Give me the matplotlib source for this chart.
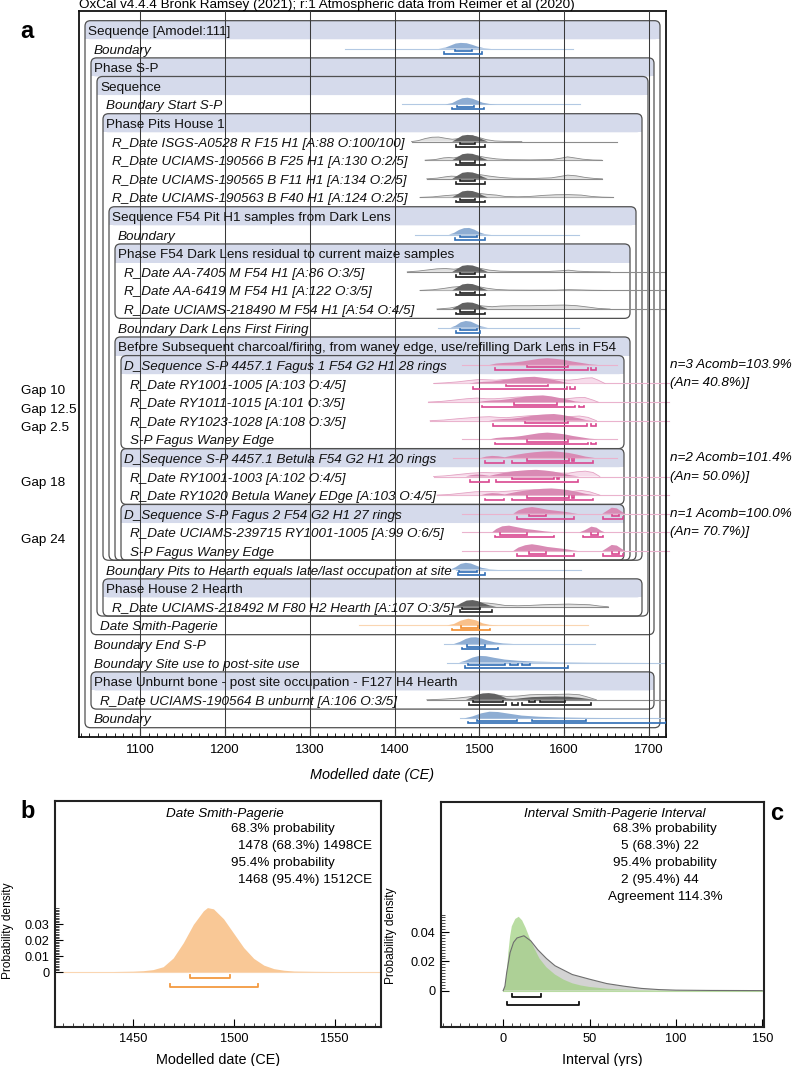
import numpy as np
import matplotlib
matplotlib.use("Agg")
import matplotlib.pyplot as plt
from matplotlib.patches import FancyBboxPatch, Rectangle
from matplotlib.ticker import FixedLocator
import matplotlib.transforms as mtransforms

plt.rcParams['font.family'] = ['Liberation Sans', 'DejaVu Sans']

# ---------------- panel a data ----------------
ROW_LABELS = [
    "Sequence [Amodel:111]",
    "Boundary",
    "Phase S-P",
    "Sequence",
    "Boundary Start S-P",
    "Phase Pits House 1",
    "R_Date ISGS-A0528 R F15 H1 [A:88 O:100/100]",
    "R_Date UCIAMS-190566 B F25 H1 [A:130 O:2/5]",
    "R_Date UCIAMS-190565 B F11 H1 [A:134 O:2/5]",
    "R_Date UCIAMS-190563 B F40 H1 [A:124 O:2/5]",
    "Sequence F54 Pit H1 samples from Dark Lens",
    "Boundary",
    "Phase F54 Dark Lens residual to current maize samples",
    "R_Date AA-7405 M F54 H1 [A:86 O:3/5]",
    "R_Date AA-6419 M F54 H1 [A:122 O:3/5]",
    "R_Date UCIAMS-218490 M F54 H1 [A:54 O:4/5]",
    "Boundary Dark Lens First Firing",
    "Before Subsequent charcoal/firing, from waney edge, use/refilling Dark Lens in F54",
    "D_Sequence S-P 4457.1 Fagus 1 F54 G2 H1 28 rings",
    "R_Date RY1001-1005 [A:103 O:4/5]",
    "R_Date RY1011-1015 [A:101 O:3/5]",
    "R_Date RY1023-1028 [A:108 O:3/5]",
    "S-P Fagus Waney Edge",
    "D_Sequence S-P 4457.1 Betula F54 G2 H1 20 rings",
    "R_Date RY1001-1003 [A:102 O:4/5]",
    "R_Date RY1020 Betula Waney EDge [A:103 O:4/5]",
    "D_Sequence S-P Fagus 2 F54 G2 H1 27 rings",
    "R_Date UCIAMS-239715 RY1001-1005 [A:99 O:6/5]",
    "S-P Fagus Waney Edge",
    "Boundary Pits to Hearth equals late/last occupation at site",
    "Phase House 2 Hearth",
    "R_Date UCIAMS-218492 M F80 H2 Hearth [A:107 O:3/5]",
    "Date Smith-Pagerie",
    "Boundary End S-P",
    "Boundary Site use to post-site use",
    "Phase Unburnt bone - post site occupation - F127 H4 Hearth",
    "R_Date UCIAMS-190564 B unburnt [A:106 O:3/5]",
    "Boundary",
]
ROW_LEVELS = [0, 1, 1, 2, 3, 3, 4, 4, 4, 4, 4, 5, 5, 6, 6, 6, 5, 5, 6, 7, 7, 7, 7,
              6, 7, 7, 6, 7, 7, 3, 3, 4, 2, 1, 1, 1, 2, 1]
ROW_STYLE = ("H I H H I H I I I I H I H I I I I H HI I I I I HI I I HI I I I "
             "H I I I I H I I").split()
GROUP_LAST = {0: 37, 2: 32, 3: 31, 5: 28, 10: 28, 12: 15, 17: 28, 18: 22,
              23: 25, 26: 28, 30: 31, 35: 36}

ROW_COLOUR = {1: 'b', 4: 'b', 11: 'b', 16: 'b', 29: 'b', 33: 'b', 34: 'b', 37: 'b',
              6: 'g', 7: 'g', 8: 'g', 9: 'g', 13: 'g', 14: 'g', 15: 'g', 31: 'g', 36: 'g',
              32: 'o',
              18: 'p', 19: 'p', 20: 'p', 21: 'p', 22: 'p', 23: 'p', 24: 'p', 25: 'p',
              26: 'p', 27: 'p', 28: 'p'}

LINE_SPAN = {1: (1341, 1610), 4: (1409, 1619), 6: (1420, 1662), 7: (1436, 1644),
             8: (1438, 1645), 9: (1430, 1658), 11: (1424, 1618), 13: (1415, 1720),
             14: (1430, 1720), 15: (1450, 1720), 16: (1451, 1618), 18: (1479, 1662),
             19: (1446, 1724), 20: (1440, 1724), 21: (1442, 1724), 22: (1479, 1662),
             23: (1469, 1662), 24: (1446, 1724), 25: (1450, 1724), 26: (1479, 1724),
             27: (1479, 1724), 28: (1479, 1724), 29: (1473, 1620), 31: (1470, 1652),
             32: (1358, 1628), 33: (1458, 1636), 34: (1462, 1720), 36: (1438, 1720),
             37: (1477, 1720)}

RDATE_POST_YR = [1468, 1474, 1480, 1486, 1492, 1498, 1504, 1510]
RDATE_POST_H = [0, 0.45, 0.9, 1.0, 0.95, 0.7, 0.3, 0]
FAGUS1_YR = [1512, 1520, 1530, 1540, 1550, 1560, 1570, 1580, 1590, 1600, 1610, 1620, 1630, 1640]
FAGUS1_H = [0, 0.2, 0.3, 0.35, 0.5, 0.7, 0.9, 1.0, 0.9, 0.75, 0.5, 0.3, 0.1, 0]
BETULA_YR = [1502, 1508, 1515, 1522, 1530, 1537, 1545, 1555, 1565, 1575, 1585, 1595,
             1605, 1615, 1625, 1636]
BETULA_H = [0, 0.2, 0.3, 0.25, 0.1, 0.3, 0.5, 0.7, 0.85, 0.95, 1.0, 0.9, 0.75, 0.5, 0.2, 0]
FAGUS2_YR = [1540, 1546, 1554, 1562, 1570, 1580, 1590, 1600, 1610, 1616, 1645, 1650,
             1656, 1662, 1668, 1672]
FAGUS2_H = [0, 0.5, 0.85, 1.0, 0.85, 0.6, 0.45, 0.3, 0.1, 0, 0, 0.4, 0.9, 0.8, 0.3, 0]
RY_H = [0, 0.15, 0.25, 0.3, 0.45, 0.65, 0.85, 0.95, 1.0, 0.85, 0.6, 0.35, 0.1, 0]

POST = {
    1: ([1452, 1460, 1466, 1472, 1478, 1485, 1492, 1498, 1505, 1514],
        [0, 0.15, 0.45, 0.75, 0.85, 0.8, 0.55, 0.28, 0.08, 0]),
    4: ([1460, 1468, 1474, 1480, 1486, 1492, 1498, 1504, 1512, 1520],
        [0, 0.2, 0.6, 0.92, 1.0, 0.85, 0.55, 0.25, 0.07, 0]),
    6: (RDATE_POST_YR, RDATE_POST_H), 7: (RDATE_POST_YR, RDATE_POST_H),
    8: (RDATE_POST_YR, RDATE_POST_H), 9: (RDATE_POST_YR, RDATE_POST_H),
    11: ([1464, 1470, 1476, 1482, 1488, 1494, 1500, 1506, 1514],
         [0, 0.25, 0.7, 0.97, 1.0, 0.75, 0.35, 0.1, 0]),
    13: (RDATE_POST_YR, RDATE_POST_H), 14: (RDATE_POST_YR, RDATE_POST_H),
    15: (RDATE_POST_YR, RDATE_POST_H),
    16: ([1466, 1472, 1478, 1484, 1490, 1496, 1502, 1510],
         [0, 0.3, 0.8, 1.0, 0.9, 0.55, 0.2, 0]),
    18: (FAGUS1_YR, FAGUS1_H),
    19: ([1488, 1496, 1505, 1515, 1525, 1535, 1545, 1555, 1565, 1575, 1585, 1595, 1603, 1612], RY_H),
    20: ([1498, 1506, 1515, 1525, 1535, 1545, 1555, 1565, 1575, 1585, 1595, 1605, 1613, 1622], RY_H),
    21: ([1511, 1519, 1528, 1538, 1548, 1558, 1568, 1578, 1588, 1598, 1608, 1618, 1626, 1635], RY_H),
    22: (FAGUS1_YR, FAGUS1_H),
    23: (BETULA_YR, BETULA_H),
    24: ([1484, 1490, 1497, 1504, 1512, 1519, 1527, 1537, 1547, 1557, 1567, 1577, 1587,
          1597, 1607, 1618], BETULA_H),
    25: (BETULA_YR, BETULA_H),
    26: (FAGUS2_YR, FAGUS2_H),
    27: ([1515, 1520, 1527, 1535, 1545, 1555, 1565, 1577, 1590, 1618, 1624, 1632, 1638, 1644, 1648],
         [0, 0.5, 0.9, 1.0, 0.75, 0.5, 0.35, 0.15, 0, 0, 0.3, 0.85, 0.7, 0.2, 0]),
    28: (FAGUS2_YR, FAGUS2_H),
    29: ([1466, 1472, 1478, 1484, 1490, 1496, 1503, 1512, 1522],
         [0, 0.35, 0.85, 1.0, 0.9, 0.6, 0.25, 0.06, 0]),
    31: ([1472, 1478, 1485, 1492, 1498, 1505, 1512, 1520],
         [0, 0.5, 0.92, 1.0, 0.85, 0.5, 0.2, 0]),
    32: ([1462, 1470, 1478, 1487, 1496, 1504, 1512, 1522],
         [0, 0.2, 0.7, 1.0, 0.75, 0.3, 0.08, 0]),
    33: ([1470, 1477, 1484, 1490, 1496, 1503, 1510, 1518, 1528, 1540],
         [0, 0.3, 0.75, 0.97, 1.0, 0.8, 0.5, 0.25, 0.08, 0]),
    34: ([1476, 1484, 1492, 1500, 1508, 1518, 1530, 1545, 1565, 1590, 1630, 1700],
         [0, 0.3, 0.75, 1.0, 0.95, 0.7, 0.45, 0.28, 0.15, 0.08, 0.03, 0]),
    36: ([1484, 1490, 1497, 1504, 1511, 1518, 1525, 1532, 1540, 1550, 1562, 1575, 1590,
          1605, 1618, 1630, 1638],
         [0, 0.3, 0.75, 0.95, 1.0, 0.9, 0.6, 0.2, 0.1, 0.25, 0.4, 0.45, 0.5, 0.45, 0.3, 0.1, 0]),
    37: ([1482, 1492, 1502, 1512, 1522, 1535, 1550, 1570, 1595, 1630, 1680, 1720],
         [0, 0.3, 0.75, 1.0, 0.95, 0.7, 0.42, 0.25, 0.14, 0.07, 0.03, 0.01]),
}

PRIOR = {
    6: ([1420, 1428, 1436, 1444, 1452, 1460, 1468, 1476, 1484, 1492, 1500, 1508, 1518, 1530, 1550],
        [0, 0.15, 0.45, 0.65, 0.68, 0.5, 0.35, 0.45, 0.75, 0.85, 0.6, 0.3, 0.1, 0.04, 0.02]),
    7: ([1436, 1448, 1458, 1464, 1470, 1478, 1488, 1498, 1508, 1520, 1535, 1560, 1585, 1596,
         1604, 1612, 1622, 1634, 1644],
        [0, 0.1, 0.35, 0.4, 0.35, 0.55, 0.7, 0.65, 0.4, 0.2, 0.08, 0.05, 0.1, 0.3, 0.5, 0.35,
         0.15, 0.03, 0]),
    8: ([1438, 1450, 1460, 1467, 1474, 1482, 1492, 1502, 1512, 1525, 1540, 1565, 1585, 1595,
         1604, 1614, 1625, 1636, 1645],
        [0, 0.1, 0.3, 0.4, 0.35, 0.6, 0.75, 0.6, 0.4, 0.2, 0.08, 0.06, 0.15, 0.35, 0.55, 0.45,
         0.2, 0.05, 0]),
    9: ([1430, 1445, 1458, 1468, 1478, 1490, 1500, 1510, 1520, 1530, 1545, 1560, 1575, 1590,
         1605, 1620, 1632, 1645, 1658],
        [0, 0.08, 0.25, 0.35, 0.45, 0.7, 0.6, 0.45, 0.35, 0.15, 0.1, 0.15, 0.3, 0.4, 0.42, 0.35,
         0.15, 0.04, 0]),
    13: ([1415, 1428, 1440, 1450, 1460, 1470, 1480, 1490, 1500, 1512, 1525, 1545, 1580, 1595,
          1605, 1616, 1630, 1654],
         [0, 0.12, 0.3, 0.45, 0.5, 0.4, 0.55, 0.7, 0.55, 0.25, 0.1, 0.05, 0.05, 0.15, 0.25, 0.1,
          0.03, 0]),
    14: ([1430, 1445, 1458, 1468, 1478, 1488, 1498, 1508, 1520, 1535, 1560, 1590, 1605, 1618,
          1632, 1650],
         [0, 0.1, 0.3, 0.5, 0.6, 0.7, 0.6, 0.35, 0.15, 0.06, 0.04, 0.05, 0.12, 0.08, 0.03, 0]),
    15: ([1450, 1465, 1475, 1485, 1495, 1505, 1515, 1525, 1540, 1560, 1580, 1600, 1615, 1628,
          1640, 1654],
         [0, 0.15, 0.4, 0.55, 0.6, 0.45, 0.35, 0.45, 0.5, 0.5, 0.55, 0.6, 0.5, 0.3, 0.1, 0]),
    19: ([1446, 1460, 1475, 1488, 1500, 1510, 1520, 1530, 1545, 1560, 1575, 1590, 1605, 1615,
          1625, 1633, 1640, 1648],
         [0, 0.1, 0.25, 0.45, 0.6, 0.55, 0.5, 0.6, 0.7, 0.8, 0.75, 0.6, 0.5, 0.6, 0.8, 0.85, 0.5, 0]),
    20: ([1440, 1455, 1470, 1485, 1497, 1508, 1518, 1530, 1545, 1560, 1575, 1590, 1603, 1614,
          1624, 1634, 1640],
         [0, 0.1, 0.3, 0.5, 0.6, 0.5, 0.5, 0.6, 0.75, 0.8, 0.7, 0.55, 0.5, 0.65, 0.7, 0.3, 0]),
    21: ([1442, 1458, 1475, 1490, 1502, 1512, 1522, 1532, 1545, 1560, 1575, 1590, 1605, 1618,
          1628, 1638],
         [0, 0.1, 0.3, 0.45, 0.55, 0.6, 0.5, 0.45, 0.6, 0.75, 0.8, 0.7, 0.6, 0.7, 0.5, 0]),
    24: ([1446, 1460, 1475, 1490, 1505, 1518, 1530, 1545, 1560, 1575, 1590, 1605, 1615, 1625,
          1634, 1642],
         [0, 0.1, 0.3, 0.5, 0.6, 0.55, 0.6, 0.75, 0.8, 0.7, 0.55, 0.5, 0.7, 0.8, 0.6, 0]),
    25: ([1450, 1465, 1480, 1495, 1510, 1522, 1535, 1550, 1565, 1580, 1595, 1608, 1620, 1630, 1642],
         [0, 0.1, 0.3, 0.5, 0.55, 0.5, 0.6, 0.75, 0.8, 0.7, 0.55, 0.55, 0.7, 0.5, 0]),
    31: ([1470, 1480, 1490, 1500, 1510, 1520, 1530, 1545, 1560, 1575, 1590, 1605, 1618, 1630,
          1642, 1652],
         [0, 0.35, 0.7, 0.6, 0.55, 0.4, 0.2, 0.15, 0.2, 0.3, 0.35, 0.4, 0.35, 0.3, 0.1, 0]),
    36: ([1438, 1455, 1470, 1485, 1498, 1510, 1522, 1532, 1545, 1560, 1575, 1590, 1605, 1618,
          1628, 1638],
         [0, 0.08, 0.2, 0.4, 0.6, 0.75, 0.7, 0.5, 0.55, 0.75, 0.8, 0.8, 0.85, 0.75, 0.4, 0]),
}

R68_RDATE = [(1477, 1495)]
R95_RDATE = [(1473, 1507)]
HPD68 = {1: [(1471, 1491)], 4: [(1474, 1494)], 6: R68_RDATE, 7: R68_RDATE, 8: R68_RDATE,
         9: R68_RDATE, 11: [(1477, 1497)], 13: R68_RDATE, 14: R68_RDATE, 15: R68_RDATE,
         16: [(1477, 1497)], 18: [(1556, 1605)], 19: [(1531, 1581)], 20: [(1541, 1591)],
         21: [(1554, 1604)], 22: [(1556, 1605)], 23: [(1556, 1606), (1609, 1611)],
         24: [(1538, 1588), (1592, 1594)], 25: [(1556, 1606), (1609, 1611)],
         26: [(1558, 1579), (1656, 1665)], 27: [(1524, 1556), (1632, 1640)],
         28: [(1558, 1579), (1656, 1665)], 29: [(1476, 1497)], 31: [(1479, 1501)],
         32: [(1478, 1498)], 33: [(1485, 1507)],
         34: [(1487, 1530), (1536, 1546), (1550, 1560)],
         36: [(1493, 1528), (1559, 1565), (1571, 1601)],
         37: [(1497, 1544), (1562, 1626)]}
HPD95 = {1: [(1458, 1503)], 4: [(1468, 1506)], 6: R95_RDATE, 7: R95_RDATE, 8: R95_RDATE,
         9: R95_RDATE, 11: [(1471, 1507)], 13: R95_RDATE, 14: R95_RDATE, 15: R95_RDATE,
         16: [(1473, 1501)], 18: [(1518, 1628), (1632, 1638)], 19: [(1493, 1603), (1607, 1613)],
         20: [(1503, 1613), (1618, 1623)], 21: [(1516, 1627), (1631, 1637)],
         22: [(1518, 1628), (1632, 1638)], 23: [(1507, 1529), (1538, 1634)],
         24: [(1489, 1511), (1520, 1616)], 25: [(1507, 1529), (1538, 1634)],
         26: [(1544, 1612), (1646, 1669)], 27: [(1519, 1588), (1622, 1646)],
         28: [(1544, 1612), (1646, 1669)], 29: [(1475, 1507)], 31: [(1477, 1515)],
         32: [(1468, 1512)], 33: [(1479, 1522)], 34: [(1483, 1604)],
         36: [(1488, 1531), (1538, 1546), (1550, 1632)], 37: [(1487, 1720)]}

GAP_ROWS = [19.4, 20.4, 21.4, 24.35, 27.4]
GAP_LABELS = ["Gap 10", "Gap 12.5", "Gap 2.5", "Gap 18", "Gap 24"]
ANNOT_ROWS = [18, 19, 23, 24, 26, 27]
ANNOT_LABELS = ["n=3 Acomb=103.9%", "(An= 40.8%)]", "n=2 Acomb=101.4%", "(An= 50.0%)]",
                "n=1 Acomb=100.0%", "(An= 70.7%)]"]
A_XTICKS = [1100, 1200, 1300, 1400, 1500, 1600, 1700]

# ---------------- panel b data ----------------
B_YEARS = [1411, 1440, 1450, 1455, 1460, 1465, 1470, 1475, 1480, 1485, 1487, 1490, 1495,
           1500, 1505, 1510, 1515, 1520, 1525, 1530, 1540, 1550, 1573]
B_DENS = [0, 0, 0.0002, 0.0005, 0.0012, 0.0030, 0.0085, 0.0180, 0.0295, 0.0380, 0.0400,
          0.0392, 0.0330, 0.0240, 0.0150, 0.0082, 0.0040, 0.0018, 0.0008, 0.0003, 0.0001, 0, 0]
B_R68 = (1478, 1498)
B_R95 = (1468, 1512)
B_TEXT = ["68.3% probability", "1478 (68.3%) 1498CE", "95.4% probability",
          "1468 (95.4%) 1512CE"]

# ---------------- panel c data ----------------
C_INT = [0, 1, 2, 3, 4, 5, 7, 9, 11, 13, 15, 18, 21, 25, 30, 35, 40, 45, 50, 60, 70, 80,
         100, 120, 150]
C_POST = [0, 0.003, 0.012, 0.026, 0.037, 0.044, 0.049, 0.0505, 0.048, 0.043, 0.037, 0.029,
          0.022, 0.016, 0.011, 0.0075, 0.005, 0.0035, 0.0025, 0.0013, 0.0007, 0.0004, 0.0002,
          0.0001, 0.00005]
C_PRIOR_INT = [0, 1, 2, 4, 6, 8, 12, 16, 20, 25, 30, 35, 40, 50, 60, 70, 80, 90, 100, 120, 150]
C_PRIOR = [0, 0.003, 0.012, 0.026, 0.033, 0.036, 0.0375, 0.034, 0.028, 0.022, 0.017, 0.014,
           0.011, 0.0078, 0.0048, 0.003, 0.0015, 0.0007, 0.0003, 0.0001, 0]
C_R68 = (5, 22)
C_R95 = (2, 44)
C_TEXT = ["68.3% probability", "5 (68.3%) 22", "95.4% probability", "2 (95.4%) 44",
          "Agreement 114.3%"]

# ---------------- colours ----------------
COL = {
    'b': dict(line='#b3c9e3', prior_fill=None, prior_edge=None, post='#8eadd3', rng='#2f6db5'),
    'g': dict(line='#8c8c8c', prior_fill='#e0e0e0', prior_edge='#8a8a8a', post='#626262', rng='#1e1e1e'),
    'p': dict(line='#eab3cd', prior_fill='#f7dceb', prior_edge='#e3a3c3', post='#d98ab4', rng='#d94790'),
    'o': dict(line='#fad6b2', prior_fill=None, prior_edge=None, post='#f9c08a', rng='#f28c2c'),
}
BAND = '#d5daeb'
BOXEDGE = '#505050'

# ---------------- figure ----------------
W, H = 792, 1066
fig = plt.figure(figsize=(W / 100, H / 100), dpi=100)

XMIN, XMAX = 1028, 1720
YTOP, YBOT = -1.02, 38.0
ax_l, ax_r, ax_t, ax_b = 79, 666, 11, 737
ax = fig.add_axes([ax_l / W, 1 - ax_b / H, (ax_r - ax_l) / W, (ax_b - ax_t) / H])
ax.set_xlim(XMIN, XMAX)
ax.set_ylim(YBOT, YTOP)
ppy = (ax_r - ax_l) / (XMAX - XMIN)        # pixels per year
ppr = (ax_b - ax_t) / (YBOT - YTOP)        # pixels per row

FS = 9.7
HS = 0.36        # peak height in rows
OFF68, OFF95, TCK = 0.14, 0.27, 0.08

# group boxes
for h, last in GROUP_LAST.items():
    L = ROW_LEVELS[h]
    left = XMIN + (6 + 6 * L) / ppy
    right = XMAX - (6 + 6 * L) / ppy
    top = h - 0.5
    bot = last + 0.5
    rs = 5.5 / ppy
    asp = ppy / ppr
    band = FancyBboxPatch((left, top), right - left, 1.0,
                          boxstyle=f"round,pad=0,rounding_size={rs}", mutation_aspect=asp,
                          facecolor=BAND, edgecolor='none', zorder=1)
    ax.add_patch(band)
    ax.add_patch(Rectangle((left, h), right - left, 0.5, facecolor=BAND, edgecolor='none', zorder=1))
    box = FancyBboxPatch((left, top), right - left, bot - top,
                         boxstyle=f"round,pad=0,rounding_size={rs}", mutation_aspect=asp,
                         facecolor='none', edgecolor=BOXEDGE, lw=0.9, zorder=2)
    ax.add_patch(box)

# labels
for i, lab in enumerate(ROW_LABELS):
    L = ROW_LEVELS[i]
    x = XMIN + (9 + 6 * L) / ppy
    st = ROW_STYLE[i]
    ax.text(x, i + 0.27, lab, fontsize=FS, style='normal' if st == 'H' else 'italic',
            va='baseline', ha='left', zorder=6, color='#111111')


def bracket(a, b, y, col):
    ax.plot([a, a, b, b], [y - TCK, y, y, y - TCK], color=col, lw=1.2,
            solid_joinstyle='miter', zorder=4)


for r, kind in ROW_COLOUR.items():
    c = COL[kind]
    if r in LINE_SPAN:
        x0, x1 = LINE_SPAN[r]
        ax.plot([x0, x1], [r, r], color=c['line'], lw=0.8, zorder=2.5,
                clip_on=(x1 <= XMAX))
    if r in PRIOR:
        yr, hh = PRIOR[r]
        yy = [r - HS * v for v in hh]
        ax.fill_between(yr, r, yy, facecolor=c['prior_fill'], edgecolor='none', zorder=2.6)
        ax.plot(yr, yy, color=c['prior_edge'], lw=0.6, zorder=2.65)
    if r in POST:
        yr, hh = POST[r]
        ax.fill_between(yr, r, [r - HS * v for v in hh], facecolor=c['post'],
                        edgecolor='none', zorder=2.8)
    for a, b in HPD68.get(r, []):
        bracket(a, b, r + OFF68, c['rng'])
    for a, b in HPD95.get(r, []):
        bracket(a, b, r + OFF95, c['rng'])

# vertical grid lines
for xv in A_XTICKS:
    ax.axvline(xv, color='#3a3a3a', lw=0.75, zorder=3.5)

ax.set_xticks(A_XTICKS)
ax.xaxis.set_minor_locator(FixedLocator(list(range(1030, 1721, 10))))
ax.tick_params(axis='x', which='major', direction='in', length=6, width=0.8, labelsize=9.5, pad=5)
ax.tick_params(axis='x', which='minor', direction='in', length=3, width=0.6)
ax.tick_params(axis='y', left=False, labelleft=False)
for s in ax.spines.values():
    s.set_linewidth(1.3)
    s.set_color('#111111')
ax.set_xlabel("Modelled date (CE)", fontsize=10.4, style='italic', labelpad=9)

# gap labels and annotations
tr = mtransforms.blended_transform_factory(fig.transFigure, ax.transData)
for yv, lab in zip(GAP_ROWS, GAP_LABELS):
    fig.text(21 / W, yv, lab, transform=tr, fontsize=FS, va='center', ha='left')
for rv, lab in zip(ANNOT_ROWS, ANNOT_LABELS):
    fig.text(670 / W, rv, lab, transform=tr, fontsize=FS, va='center', ha='left', style='italic')

fig.text(79 / W, 1 - 5 / H, "OxCal v4.4.4 Bronk Ramsey (2021); r:1 Atmospheric data from Reimer et al (2020)",
         fontsize=9.7, va='center', ha='left')
fig.text(27 / W, 1 - 31 / H, "a", fontsize=17, fontweight='bold', va='center', ha='center')
fig.text(28 / W, 1 - 812 / H, "b", fontsize=17, fontweight='bold', va='center', ha='center')
fig.text(777 / W, 1 - 813 / H, "c", fontsize=17, fontweight='bold', va='center', ha='center')

# ---------------- panel b ----------------
axb = fig.add_axes([55 / W, 1 - 1027 / H, 326 / W, 226 / H])
axb.set_xlim(1411, 1573)
axb.set_ylim(-0.0344, 0.107)
axb.plot([B_YEARS[0], B_YEARS[-1]], [0, 0], color='#fad6b2', lw=0.8, zorder=1)
axb.fill_between(B_YEARS, 0, B_DENS, facecolor='#f9c896', edgecolor='none', zorder=2)
for (a, b), yv in ((B_R68, -0.0037), (B_R95, -0.0092)):
    axb.plot([a, a, b, b], [yv + 0.0016, yv, yv, yv + 0.0016], color='#f39a40', lw=1.3)
axb.set_xticks([1450, 1500, 1550])
axb.xaxis.set_minor_locator(FixedLocator(list(range(1415, 1573, 5))))
axb.set_yticks([0, 0.01, 0.02, 0.03])
axb.set_yticklabels(['0', '0.01', '0.02', '0.03'])
axb.yaxis.set_minor_locator(FixedLocator([k / 1000 for k in range(0, 41)]))
axb.set_xlabel("Modelled date (CE)", fontsize=10.4, labelpad=6)
axb.set_ylabel("Probability density", fontsize=8.6)
axb.yaxis.set_label_coords(-0.125, 0.425)
axb.text(0.5215, 0.942, "Date Smith-Pagerie", transform=axb.transAxes, fontsize=FS,
         style='italic', ha='center', va='center')
for txt, xf, yf in zip(B_TEXT, [0.54, 0.5613, 0.54, 0.5613], [0.8761, 0.8009, 0.7257, 0.6504]):
    axb.text(xf, yf, txt, transform=axb.transAxes, fontsize=FS, ha='left', va='center')

# ---------------- panel c ----------------
axc = fig.add_axes([441 / W, 1 - 1027 / H, 323 / W, 225 / H])
axc.set_xlim(-36, 151)
axc.set_ylim(-0.0249, 0.129)
axc.plot([C_INT[0], C_INT[-1]], [0, 0], color='#b9dca3', lw=0.8, zorder=1)
axc.fill_between(C_PRIOR_INT, 0, C_PRIOR, facecolor='#d3d3d3', edgecolor='none', zorder=2)
axc.fill_between(C_INT, 0, C_POST, facecolor='#9fd07f', alpha=0.72, edgecolor='none', zorder=3)
axc.plot(C_PRIOR_INT, C_PRIOR, color='#6e6e6e', lw=0.8, zorder=4)
for (a, b), yv in ((C_R68, -0.0041), (C_R95, -0.0098)):
    axc.plot([a, a, b, b], [yv + 0.0017, yv, yv, yv + 0.0017], color='#111111', lw=1.3)
axc.set_xticks([0, 50, 100, 150])
axc.xaxis.set_minor_locator(FixedLocator(list(range(-35, 151, 5))))
axc.set_yticks([0, 0.02, 0.04])
axc.set_yticklabels(['0', '0.02', '0.04'])
axc.yaxis.set_minor_locator(FixedLocator([k / 1000 for k in range(0, 53, 2)]))
axc.set_xlabel("Interval (yrs)", fontsize=10.4, labelpad=6)
axc.set_ylabel("Probability density", fontsize=8.6)
axc.yaxis.set_label_coords(-0.136, 0.404)
axc.text(0.5387, 0.9467, "Interval Smith-Pagerie Interval", transform=axc.transAxes,
         fontsize=FS, style='italic', ha='center', va='center')
for txt, xf, yf in zip(C_TEXT, [0.5325, 0.557, 0.5325, 0.557, 0.517],
                       [0.88, 0.8044, 0.7289, 0.6533, 0.5778]):
    axc.text(xf, yf, txt, transform=axc.transAxes, fontsize=FS, ha='left', va='center')

for a_ in (axb, axc):
    a_.tick_params(which='major', direction='in', length=6, width=0.8, labelsize=9.2, pad=4)
    a_.tick_params(which='minor', direction='in', length=3, width=0.5)
    for s in a_.spines.values():
        s.set_linewidth(1.5)
        s.set_color('#222222')

fig.savefig("out.png", dpi=100)
